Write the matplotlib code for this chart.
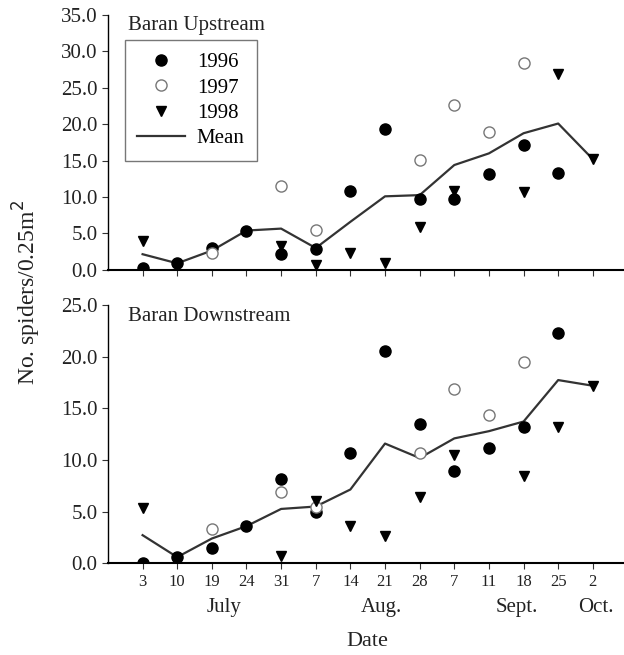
import numpy as np
import matplotlib.pyplot as plt

plt.rcParams['font.family'] = ['Liberation Serif', 'DejaVu Serif']

# sampling dates (equally spaced on the axis)
day_labels = ['3', '10', '19', '24', '31', '7', '14', '21', '28', '7', '11', '18', '25', '2']
months = ['July', 'Aug.', 'Sept.', 'Oct.']
month_pos = [2.36, 6.9, 10.8, 13.1]

nan = np.nan
# Baran Upstream
up_1996 = [0.3, 0.9, 3.0, 5.4, 2.2, 2.8, 10.9, 19.3, 9.8, 9.8, 13.1, 17.2, 13.3, nan]
up_1997 = [nan, nan, 2.3, nan, 11.5, 5.5, nan, nan, 15.1, 22.6, 18.9, 28.4, nan, nan]
up_1998 = [4.0, nan, nan, nan, 3.3, 0.7, 2.3, 0.9, 5.9, 10.8, nan, 10.7, 26.9, 15.2]
# Baran Downstream
dn_1996 = [0.05, 0.6, 1.5, 3.6, 8.2, 5.0, 10.7, 20.6, 13.5, 8.9, 11.2, 13.2, 22.3, nan]
dn_1997 = [nan, nan, 3.3, nan, 6.9, 5.5, nan, nan, 10.7, 16.9, 14.4, 19.5, nan, nan]
dn_1998 = [5.4, nan, nan, nan, 0.7, 6.0, 3.6, 2.6, 6.4, 10.5, nan, 8.5, 13.2, 17.2]

x = np.arange(len(day_labels))

fig = plt.figure(figsize=(6.24, 6.55), dpi=100)
ax1 = fig.add_axes([0.173, 0.588, 0.827, 0.389])
ax2 = fig.add_axes([0.173, 0.140, 0.827, 0.394])


def panel(ax, a, b, c, ymax, title):
    mean = np.nanmean(np.array([a, b, c]), axis=0)
    ax.plot(x, mean, '-', color='#333333', lw=1.6, label='Mean', zorder=1)
    ax.plot(x, a, 'o', color='black', ms=8, ls='none', label='1996', zorder=3)
    ax.plot(x, b, 'o', mfc='white', mec='#777777', mew=1.0, ms=8, ls='none', label='1997', zorder=3)
    ax.plot(x, c, 'v', color='black', ms=7, ls='none', label='1998', zorder=3)
    ax.set_xlim(-1, 13.9)
    ax.set_ylim(0, ymax)
    ax.set_yticks(np.arange(0, ymax + 0.1, 5))
    ax.set_yticklabels(['%.1f' % v for v in np.arange(0, ymax + 0.1, 5)], fontsize=15)
    ax.set_xticks(x)
    for s in ['top', 'right']:
        ax.spines[s].set_visible(False)
    ax.spines['left'].set_linewidth(1.0)
    ax.spines['bottom'].set_linewidth(1.5)
    ax.tick_params(direction='out', length=4, width=0.8, colors='#333333', labelcolor='#222222')
    ax.text(0.038, 0.995, title, transform=ax.transAxes, fontsize=15, va='top', ha='left',
            color='#222222')
    return ax


panel(ax1, up_1996, up_1997, up_1998, 35, 'Baran Upstream')
panel(ax2, dn_1996, dn_1997, dn_1998, 25, 'Baran Downstream')

ax1.set_xticklabels([])
ax2.set_xticklabels(day_labels, fontsize=12)

h, l = ax1.get_legend_handles_labels()
order = [1, 2, 3, 0]
leg = ax1.legend([h[i] for i in order], [l[i] for i in order], loc='upper left',
                 bbox_to_anchor=(0.033, 0.902), fontsize=15, frameon=True, fancybox=False,
                 edgecolor='#555555', handlelength=2.3, handletextpad=0.55,
                 borderpad=0.6, labelspacing=0.28, borderaxespad=0.0)
leg.get_frame().set_linewidth(1.0)

for m, p in zip(months, month_pos):
    ax2.text(p, -0.17, m, transform=ax2.get_xaxis_transform(), ha='center', va='center',
             fontsize=15, color='#222222')

fig.text(0.588, 0.02, 'Date', ha='center', va='center', fontsize=16, color='#222222')
fig.text(0.043, 0.553, 'No. spiders/0.25m$^2$', rotation=90, ha='center', va='center',
         fontsize=17, color='#222222')

fig.savefig('out.png', dpi=100)
